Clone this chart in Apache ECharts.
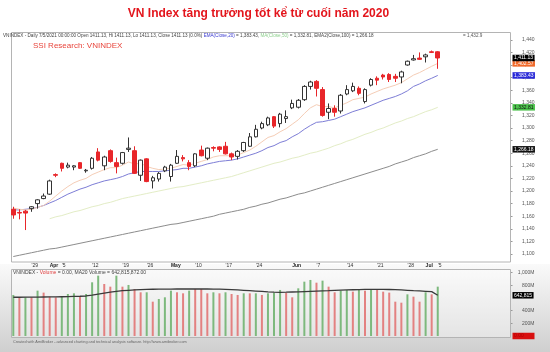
<!DOCTYPE html>
<html>
<head>
<meta charset="utf-8">
<script src="https://cdn.jsdelivr.net/npm/echarts@6.0.0/dist/echarts.min.js"></script>
<style>
  html, body { margin: 0; padding: 0; background: #fff; }
  #chart { width: 550px; height: 352px; }
</style>
</head>
<body>
<div id="chart"></div>
<script>
// trading days shown (VNINDEX daily), plus empty days on the right of the chart
const dates = ['3/24','3/25','3/26','3/29','3/30','3/31','4/1','4/2','4/5','4/6','4/7','4/8','4/9','4/12','4/13','4/14','4/15','4/16','4/19','4/20','4/22','4/23','4/26','4/27','4/28','4/29','5/4','5/5','5/6','5/7','5/10','5/11','5/12','5/13','5/14','5/17','5/18','5/19','5/20','5/21','5/24','5/25','5/26','5/27','5/28','5/31','6/1','6/2','6/3','6/4','6/7','6/8','6/9','6/10','6/11','6/14','6/15','6/16','6/17','6/18','6/21','6/22','6/23','6/24','6/25','6/28','6/29','6/30','7/1','7/2','7/5'];
const padDates = ['7/6','7/7','7/8','7/9','7/12','7/13','7/14','7/15','7/16','7/19','7/20','7/21'];

const opens = [1171,1166,1168,1172,1180,1188,1195,1226,1244,1238,
  1238,1245,1232,1236,1262,1240,1264,1245,1244,1266,
  1264,1225,1251,1216,1219,1232,1223,1244,1253,1245,
  1240,1265,1252,1269,1270,1271,1259,1255,1264,1271,
  1286,1300,1305,1318,1307,1315,1332,1333,1345,1366,
  1374,1361,1325,1331,1327,1354,1359,1363,1342,1368,
  1379,1384,1385,1382,1381,1400,1408,1411,1413,1421,1421];
const closes = [1162,1165,1165,1175,1186,1192,1216,1225,1236,1241,
  1240,1236,1233,1252,1249,1254,1247,1239,1261,1268,
  1228,1249,1215,1221,1228,1238,1241,1255,1251,1239,
  1259,1256,1268,1268,1266,1259,1254,1263,1277,1286,
  1298,1307,1316,1303,1322,1318,1339,1344,1366,1373,
  1363,1320,1331,1325,1352,1361,1366,1355,1361,1377,
  1376,1381,1377,1379,1389,1406,1410,1409,1416,1420,1411.13];
const lows = [1156,1155,1138,1167,1172,1187,1194,1222,1231,1236,
  1233,1235,1229,1234,1247,1233,1245,1228,1242,1262,
  1227,1216,1214,1204,1215,1230,1215,1243,1247,1233,
  1238,1255,1249,1263,1262,1258,1249,1250,1262,1270,
  1285,1298,1303,1300,1301,1308,1330,1331,1343,1361,
  1350,1318,1314,1318,1323,1352,1357,1352,1339,1366,
  1368,1377,1373,1373,1371,1399,1407,1408,1404,1419,1394];
const highs = [1175,1171,1170,1176,1187,1196,1218,1228,1245,1245,
  1241,1246,1235,1254,1268,1256,1266,1253,1262,1285,
  1271,1250,1252,1224,1230,1240,1243,1265,1257,1249,
  1260,1272,1269,1271,1271,1278,1261,1265,1278,1292,
  1305,1310,1318,1319,1324,1328,1345,1346,1368,1375,
  1376,1365,1339,1336,1354,1368,1372,1366,1363,1379,
  1382,1386,1387,1386,1391,1407,1416,1420,1418,1423,1422];

// moving averages
const maShort = [1173,1171,1170,1171,1174,1177,1184,1192,1200,1207,
  1213,1217,1220,1226,1230,1234,1237,1237,1241,1246,
  1243,1244,1239,1236,1234,1235,1236,1239,1242,1241,
  1244,1247,1250,1254,1256,1256,1256,1257,1261,1265,
  1271,1278,1285,1288,1294,1299,1306,1313,1323,1332,
  1337,1334,1334,1332,1336,1340,1345,1347,1349,1354,
  1358,1362,1365,1368,1372,1378,1384,1388,1393,1398,1402.57];
const ema20 = [1170,1170,1171,1172,1174,1177,1181,1185,1190,1195,
  1199,1203,1206,1210,1213,1216,1218,1220,1223,1227,
  1229,1231,1231,1231,1231,1232,1233,1234,1236,1236,
  1238,1240,1243,1245,1247,1248,1249,1251,1254,1257,
  1260,1264,1269,1272,1277,1280,1286,1291,1298,1304,
  1309,1310,1312,1314,1318,1322,1326,1329,1332,1336,
  1340,1344,1347,1350,1354,1359,1366,1370,1375,1379,1383.43];
const ma50 = [null,null,null,null,null,null,1156,1159,1161,1164,
  1167,1169,1172,1175,1177,1180,1182,1185,1188,1190,
  1192,1194,1196,1198,1200,1202,1204,1206,1207,1209,
  1211,1213,1215,1217,1219,1221,1223,1226,1229,1232,
  1235,1238,1241,1244,1246,1249,1252,1254,1257,1260,
  1262,1265,1268,1272,1275,1279,1282,1286,1290,1293,
  1297,1300,1304,1308,1311,1315,1318,1322,1326,1329,1332.81];
const ema100 = [1096,1098,1100,1102,1104,1106,1108,1109,1111,1113,
  1115,1117,1119,1121,1123,1125,1127,1129,1131,1133,
  1135,1137,1139,1141,1143,1145,1147,1148,1150,1152,
  1154,1156,1158,1160,1163,1165,1167,1169,1171,1174,
  1176,1179,1181,1184,1187,1189,1192,1195,1197,1200,
  1203,1206,1209,1212,1215,1218,1221,1224,1227,1230,
  1233,1236,1239,1243,1246,1249,1253,1256,1259,1263,1266.18];

// volume in millions
const volumes = [648,611,611,611,716,685,621,611,621,663,
  674,632,663,848,953,821,779,953,779,806,
  742,690,690,542,584,611,716,690,674,716,
  742,742,674,690,674,690,663,648,674,674,
  674,648,674,685,727,685,611,753,858,885,
  842,874,779,690,716,727,700,727,716,727,
  737,700,685,542,526,658,621,542,690,658,779];
const volDir = ['u','d','u','d','u','d','d','d','u','u',
  'u','d','u','u','u','d','d','u','d','u',
  'd','d','u','d','u','u','u','d','d','u',
  'd','d','d','u','d','u','d','d','u','d',
  'u','d','u','u','u','d','d','u','u','u',
  'd','u','d','d','u','u','d','u','d','u',
  'd','d','d','d','d','u','d','d','u','d','u'];
const volMA20 = [612,612,613,614,615,616,617,618,620,622,
  625,628,632,645,662,678,692,705,715,722,
  728,733,736,738,739,740,741,742,742,742,
  742,742,742,741,740,737,733,728,722,716,
  710,704,698,693,690,692,695,698,702,706,
  710,713,716,720,724,727,730,733,735,737,
  737,736,734,731,727,722,716,711,706,700,642.815];

const priceTicks = [1100,1120,1140,1160,1180,1200,1220,1240,1260,1280,1300,1320,1340,1360,1380,1400,1420,1440];
const volTicks = [200,400,800,1000];
const tickDates = ['3/29','4/1','4/5','4/12','4/19','4/26','5/4','5/10','5/17','5/24','6/1','6/7','6/14','6/21','6/28','7/1','7/5'];
const tickTexts = ["'29",'Apr',"'5","'12","'19","'26",'May',"'10","'17","'24",'Jun',"'7","'14","'21","'28",'Jul',"'5"];

const allDates = dates.concat(padDates);
const FONT = 'Liberation Sans, Arial, sans-serif';
const UP_VOL = '#7db97d', DOWN_VOL = '#e38181', DOWN = '#e8262a';

function fmt(v, d) {
  return v.toLocaleString('en-US', { minimumFractionDigits: d, maximumFractionDigits: d });
}

// value box drawn at the right edge of a pane
function tag(value, text, bg, fg, w) {
  const label = {
    show: true, position: 'end', distance: 2,
    formatter: text, backgroundColor: bg, color: fg,
    fontSize: 5, fontFamily: FONT, padding: [1, 1.5, 0.5, 1.5]
  };
  if (w) label.width = w;
  return {
    silent: true,
    symbol: ['none', 'none'],
    animation: false,
    lineStyle: { color: 'rgba(0,0,0,0)', width: 0 },
    emphasis: { disabled: true },
    label: label,
    data: [{ yAxis: value }]
  };
}

const candleData = dates.map((d, i) => [opens[i], closes[i], lows[i], highs[i]]);
const volData = volumes.map((v, i) => ({
  value: v, itemStyle: { color: volDir[i] === 'u' ? UP_VOL : DOWN_VOL }
}));

const chart = echarts.init(document.getElementById('chart'), null, { renderer: 'canvas' });

const xLabel = {
  interval: (idx, val) => tickDates.indexOf(val) >= 0,
  formatter: val => {
    const t = tickTexts[tickDates.indexOf(val)];
    return /^[A-Z]/.test(t) ? '{b|' + t + '}' : t;
  },
  align: 'left', verticalAlign: 'top', margin: 1.5,
  fontSize: 5, fontFamily: FONT, color: '#333',
  rich: { b: { fontWeight: 'bold', fontSize: 5, fontFamily: FONT, color: '#222' } }
};

const option = {
  animation: false,
  backgroundColor: '#fff',
  grid: [
    { left: 13.3, width: 497.2, top: 32, height: 230 },
    { left: 13.3, width: 497.2, top: 269, height: 69 }
  ],
  xAxis: [
    { type: 'category', gridIndex: 0, data: allDates, boundaryGap: false,
      axisLine: { show: false }, axisTick: { show: false }, axisLabel: xLabel, splitLine: { show: false } },
    { type: 'category', gridIndex: 1, data: allDates, boundaryGap: false,
      axisLine: { show: false }, axisTick: { show: false }, axisLabel: { show: false }, splitLine: { show: false } }
  ],
  yAxis: [
    { type: 'value', gridIndex: 0, position: 'right', min: 1087.3, max: 1452.4,
      splitLine: { show: false }, axisLine: { show: false },
      axisTick: { show: true, customValues: priceTicks, length: 2, lineStyle: { color: '#999' } },
      axisLabel: { customValues: priceTicks, formatter: v => fmt(v, 0), align: 'right', margin: 24,
        fontSize: 5, fontFamily: FONT, color: '#555' } },
    { type: 'value', gridIndex: 1, position: 'right', min: -31.6, max: 1058,
      splitLine: { show: false }, axisLine: { show: false },
      axisTick: { show: true, customValues: volTicks, length: 2, lineStyle: { color: '#999' } },
      axisLabel: { customValues: volTicks, formatter: v => fmt(v, 0) + 'M', align: 'right', margin: 24,
        fontSize: 5, fontFamily: FONT, color: '#555' } }
  ],
  series: [
    { name: 'EMA100', type: 'line', xAxisIndex: 0, yAxisIndex: 0, data: ema100, symbol: 'none', z: 2,
      lineStyle: { color: '#8c8c8c', width: 1 }, markLine: tag(ema100[70], fmt(ema100[70], 2), '#111', '#fff') },
    { name: 'MA50', type: 'line', xAxisIndex: 0, yAxisIndex: 0, data: ma50, symbol: 'none', z: 2,
      lineStyle: { color: '#e3edc6', width: 1 }, markLine: tag(ma50[70], fmt(ma50[70], 2), '#4cc24c', '#111') },
    { name: 'EMA20', type: 'line', xAxisIndex: 0, yAxisIndex: 0, data: ema20, symbol: 'none', z: 2,
      lineStyle: { color: '#7d7dd6', width: 1 }, markLine: tag(ema20[70], fmt(ema20[70], 2), '#2a2ad8', '#fff') },
    { name: 'MA', type: 'line', xAxisIndex: 0, yAxisIndex: 0, data: maShort, symbol: 'none', z: 2,
      lineStyle: { color: '#f5cdb6', width: 1 }, markLine: tag(maShort[70], fmt(maShort[70], 2), '#f06a2a', '#fff') },
    { name: 'VNINDEX', type: 'candlestick', xAxisIndex: 0, yAxisIndex: 0, data: candleData,
      barWidth: 4, clip: false, z: 3,
      itemStyle: { color: '#fff', color0: DOWN, borderColor: '#333', borderColor0: DOWN, borderWidth: 1 },
      markLine: tag(closes[70], fmt(closes[70], 2), '#000', '#fff') },
    { name: 'Volume', type: 'bar', xAxisIndex: 1, yAxisIndex: 1, data: volData, barWidth: 2, clip: false,
      markLine: tag(0, '0.00', '#d81010', '#b00000', 19) },
    { name: 'MA20 Volume', type: 'line', xAxisIndex: 1, yAxisIndex: 1, data: volMA20, symbol: 'none', z: 3,
      lineStyle: { color: '#3a3a3a', width: 1.3 },
      markLine: tag(volMA20[70], fmt(volMA20[70] * 1000, 0), '#000', '#fff') }
  ],
  graphic: [
    { type: 'rect', z: -5, silent: true, shape: { x: 0, y: 264, width: 550, height: 88 },
      style: { fill: new echarts.graphic.LinearGradient(0, 0, 0, 1, [
        { offset: 0, color: '#fafafa' }, { offset: 1, color: '#cfcfcf' }]) } },
    { type: 'rect', z: 1, silent: true, shape: { x: 11.5, y: 32.5, width: 499, height: 229.5 },
      style: { fill: '#fff', stroke: '#b4b4b4', lineWidth: 1 } },
    { type: 'rect', z: 1, silent: true, shape: { x: 11.5, y: 269.5, width: 499, height: 68 },
      style: { fill: 'rgba(255,255,255,0.35)', stroke: '#b4b4b4', lineWidth: 1 } },
    { type: 'text', z: 10, silent: true, x: 258.5, y: 14,
      style: { text: 'VN Index tăng trưởng tốt kể từ cuối năm 2020', fill: '#e3151c',
        font: 'bold 12px ' + FONT, textAlign: 'center', textVerticalAlign: 'middle' } },
    { type: 'text', z: 10, silent: true, x: 3, y: 35.5,
      style: { text: 'VNINDEX - Daily 7/5/2021 00:00:00 Open 1411.13, Hi 1411.13, Lo 1411.13, Close 1411.13 (0.0%) {b|EMA(Close,20)} = 1,383.43, {g|MA(Close,50)} = 1,332.81, EMA2(Close,100) = 1,266.18',
        fill: '#444', font: '4.6px ' + FONT, textVerticalAlign: 'middle',
        rich: { b: { fill: '#3a3ad0', font: '4.6px ' + FONT }, g: { fill: '#8fd08f', font: '4.6px ' + FONT } } } },
    { type: 'text', z: 10, silent: true, x: 463, y: 35.5,
      style: { text: '= 1,432.9', fill: '#555', font: '4.6px ' + FONT, textVerticalAlign: 'middle' } },
    { type: 'text', z: 10, silent: true, x: 33, y: 46,
      style: { text: 'SSI Research: VNINDEX', fill: '#e8453c', font: '8px ' + FONT, textVerticalAlign: 'middle' } },
    { type: 'text', z: 10, silent: true, x: 13, y: 272.5,
      style: { text: 'VNINDEX - {r|Volume} = 0.00, MA20 Volume = 642,815,872.00',
        fill: '#444', font: '5px ' + FONT, textVerticalAlign: 'middle',
        rich: { r: { fill: '#e04040', font: '5px ' + FONT } } } },
    { type: 'text', z: 10, silent: true, x: 13, y: 342,
      style: { text: 'Created with AmiBroker - advanced charting and technical analysis software. http://www.amibroker.com',
        fill: '#666', font: '3.8px ' + FONT, textVerticalAlign: 'middle' } }
  ]
};

chart.setOption(option);

window.addEventListener('resize', function () {
  chart.resize();
});
</script>
</body>
</html>
